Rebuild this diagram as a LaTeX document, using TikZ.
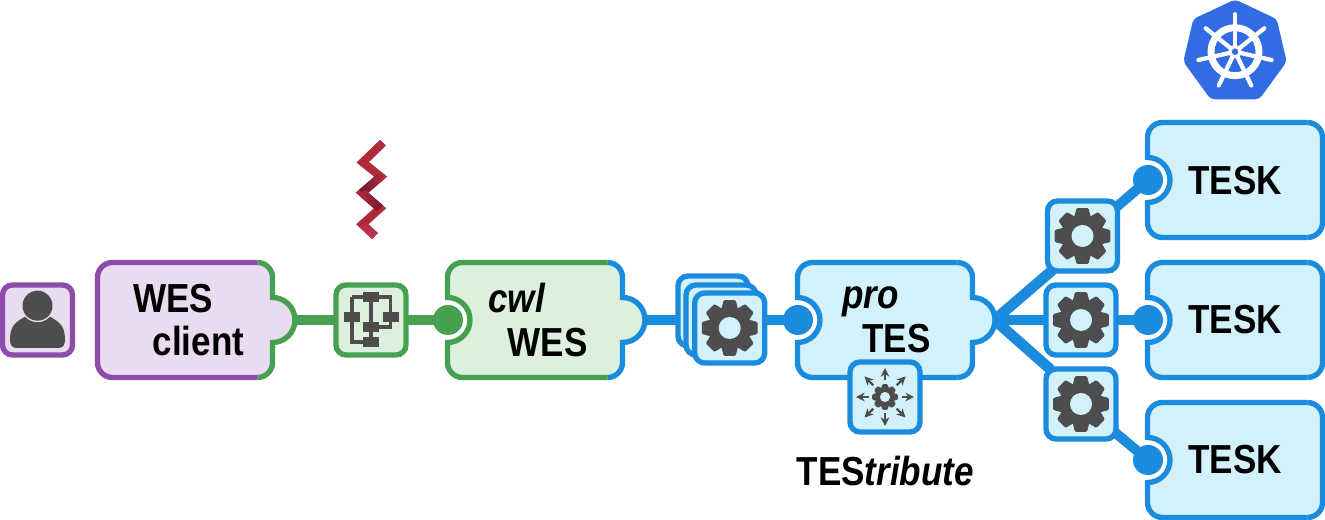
\documentclass[tikz,border=0pt]{standalone}
\usepackage{fontspec}
\setmainfont[FakeStretch=0.865]{Liberation Sans}
\usetikzlibrary{calc,arrows.meta,backgrounds}
\definecolor{cblue}{HTML}{1B8BDE}
\definecolor{lblue}{HTML}{D2F1FB}
\definecolor{cgreen}{HTML}{46A04F}
\definecolor{lgreen}{HTML}{DDF0DD}
\definecolor{cpurple}{HTML}{8E4BA8}
\definecolor{lpurple}{HTML}{E9DBF0}
\definecolor{cicon}{HTML}{4D4D4D}
\definecolor{kube}{HTML}{326CE5}
\definecolor{zred}{HTML}{B02B3A}
\definecolor{zdark}{HTML}{6E1830}
\definecolor{zpink}{HTML}{C63563}
\tikzset{
  sq/.style n args={2}{draw=#1,fill=#2,line width=4pt,rounded corners=7.5pt,
    minimum size=52.5pt,inner sep=0pt,outer sep=0pt},
  ball/.style={circle,fill=#1,minimum size=22.5pt,inner sep=0pt,outer sep=0pt},
  conn/.style={draw=#1,line width=7.5pt},
  fanline/.style={draw=cblue,line width=8pt,line cap=round},
  edgeline/.style={draw=#1,line width=4pt},
  label/.style={anchor=base,inner sep=0pt,font=\bfseries\fontsize{30.4}{30}\selectfont,text=black},
  flow/.style={draw=cicon,line width=2.5pt},
  flowbox/.style={fill=cicon},
  spoke/.style={draw=white,line width=3.2pt,line cap=round},
}
\def\withsocket{-- (0,80) arc (90:-90:22.5)}
\def\withtab{-- (175,35) arc (-90:90:22.5)}
\def\noedge{}
% name, left x, bottom y (up), fill, main colour, right colour, left piece, right piece
\newcommand\bigbox[8]{%
  \begin{scope}[shift={(#2,#3)}]
    \fill[#4] (15,0) -- (160,0) arc (-90:0:15) #8 -- (175,100) arc (0:90:15)
       -- (15,115) arc (90:180:15) #7 -- (0,15) arc (180:270:15) -- cycle;
    \draw[edgeline=#5] (160,115) -- (15,115) arc (90:180:15) #7 -- (0,15) arc (180:270:15) -- (160,0);
    \draw[edgeline=#6] (160,0) arc (-90:0:15) #8 -- (175,100) arc (0:90:15);
    \coordinate (#1-tab) at (197,57.5);
    \coordinate (#1-ball) at (0.5,57.5);
  \end{scope}}
\newcommand\gearicon[3]{%
  \begin{scope}[shift={(#1)},scale=#2]
    \fill[cicon] (0,0) circle (20.5);
    \foreach \a in {0,45,...,315}
      \fill[cicon,rotate=\a,rounded corners=0.8pt] (17,-8.8) -- (27.8,-6) -- (27.8,6) -- (17,8.8) -- cycle;
    \fill[#3] (0,0) circle (11);
  \end{scope}}
\newcommand\zseg[3]{%
  \shade[#3] ($(#1)!3.1pt!90:(#2)$) -- ($(#1)!3.1pt!-90:(#2)$) -- ($(#2)!3.1pt!90:(#1)$) -- ($(#2)!3.1pt!-90:(#1)$) -- cycle;}
\pgfdeclarelayer{linkbg}
\pgfsetlayers{linkbg,main}
\begin{document}
\begin{tikzpicture}[x=0.75pt,y=0.75pt]
\useasboundingbox (0,0) rectangle (1325,520);

% big boxes
\bigbox{wc}{97.5}{142.5}{lpurple}{cpurple}{cgreen}{\noedge}{\withtab}
\bigbox{cw}{447.5}{142.5}{lgreen}{cgreen}{cblue}{\withsocket}{\withtab}
\bigbox{pt}{797.5}{142.5}{lblue}{cblue}{cblue}{\withsocket}{\withtab}
\bigbox{t1}{1147.5}{282.5}{lblue}{cblue}{cblue}{\withsocket}{\noedge}
\bigbox{t2}{1147.5}{142.5}{lblue}{cblue}{cblue}{\withsocket}{\noedge}
\bigbox{t3}{1147.5}{2.5}{lblue}{cblue}{cblue}{\withsocket}{\noedge}

% balls
\node[ball=cgreen] (b-cw) at (cw-ball) {};
\node[ball=cblue] (b-pt) at (pt-ball) {};
\node[ball=cblue] (b-t1) at (t1-ball) {};
\node[ball=cblue] (b-t2) at (t2-ball) {};
\node[ball=cblue] (b-t3) at (t3-ball) {};

% square nodes
\node[sq={cpurple}{lpurple}] (user) at (37.5,200) {};
\node[sq={cgreen}{lgreen}] (wf) at (371,200) {};
\node[sq={cblue}{lblue}] (back) at (713,209) {};
\node[sq={cblue}{lblue}] (mid) at (721,200) {};
\node[sq={cblue}{lblue}] (front) at (729.7,192) {};
\node[sq={cblue}{lblue}] (dist) at (885,123) {};
\node[sq={cblue}{lblue}] (g1) at (1082.5,284) {};
\node[sq={cblue}{lblue}] (g2) at (1081,200) {};
\node[sq={cblue}{lblue}] (g3) at (1081,116) {};

% connectors
\begin{pgfonlayer}{linkbg}
  \draw[conn=cgreen] (wc-tab) -- (wf.center) -- (b-cw.center);
  \draw[conn=cblue] (cw-tab) -- (mid.center) -- (b-pt.center);
  \draw[conn=cblue] (pt-tab) -- (g2.center) -- (b-t2.center);
  \draw[fanline] (pt-tab) -- ($(g1.south west)+(4,0)$);
  \draw[fanline] (pt-tab) -- ($(g3.north west)+(4,0)$);
  \draw[conn=cblue] (g1.center) -- (b-t1.center);
  \draw[conn=cblue] (g3.center) -- (b-t3.center);
\end{pgfonlayer}

% labels
\node[label] (l-wes) at (173.2,207.5) {WES};
\node[label] (l-client) at (198.5,164) {client};
\node[label] (l-cwl) at (516.5,207) {\itshape cwl};
\node[label] (l-wes2) at (547.5,163.5) {WES};
\node[label] (l-pro) at (870.8,211) {\itshape pro};
\node[label] (l-tes) at (896.5,167.3) {TES};
\node[label] (l-t1) at (1235,325) {TESK};
\node[label] (l-t2) at (1235,186) {TESK};
\node[label] (l-t3) at (1235,46) {TESK};
\node[label] (l-testribute) at (885.3,34) {TES\textit{tribute}};

% user icon
\begin{scope}[shift={(user.center)}]
  \fill[cicon] (-21,-28) -- (21,-28) .. controls (26,-28) and (27.5,-24) .. (27.5,-20)
    .. controls (27.5,-8) and (24,-3) .. (13,3) -- (-13,3) .. controls (-24,-3) and (-27.5,-8) .. (-27.5,-20)
    .. controls (-27.5,-24) and (-26,-28) .. (-21,-28) -- cycle;
  \fill[lpurple] (0,14.3) circle (16.5);
  \fill[cicon] (0,14.3) circle (15);
\end{scope}

% workflow icon
\begin{scope}[shift={(wf.center)}]
  \draw[flow] (-19,23) -- (19.5,23) -- (19.5,-7) -- (0,-7);
  \draw[flow] (-19,23) -- (-19,-22) -- (0,-22);
  \draw[flow] (0,23) -- (0,-22);
  \fill[flowbox] (-8,18) rectangle (8,28);
  \fill[flowbox] (-27,-2.5) rectangle (-11,7.5);
  \fill[flowbox] (12,-2.5) rectangle (28,7.5);
  \fill[flowbox] (-8,-12) rectangle (8,-2);
  \fill[flowbox] (-8,-27.5) rectangle (8,-17.5);
\end{scope}

% gears
\gearicon{front.center}{1}{lblue}
\gearicon{g1.center}{1}{lblue}
\gearicon{g2.center}{1}{lblue}
\gearicon{g3.center}{1}{lblue}
\gearicon{dist.center}{0.46}{lblue}
\foreach \a in {0,45,...,315}
  \draw[cicon,line width=1.8pt,-{Stealth[length=6.5pt,width=6.5pt]},shift={(dist.center)},rotate=\a] (16.5,0) -- (29,0);

% zigzag logo
\coordinate (z0) at (383,377.3);
\coordinate (z1) at (362.7,357.7);
\coordinate (z2) at (380.7,343.3);
\coordinate (z3) at (362,327.3);
\coordinate (z4) at (380,311.7);
\coordinate (z5) at (362.3,295.7);
\coordinate (z6) at (375,284);
\draw[zred,line width=6.2pt,miter limit=10] (z0) -- (z1) -- (z2) -- (z3) -- (z4) -- (z5) -- (z6);
\zseg{z2}{z3}{shading=axis,left color=zdark,right color=zred,shading angle=90}
\zseg{z3}{z4}{shading=axis,left color=zred,right color=zdark}
\zseg{z5}{z6}{shading=axis,bottom color=zpink,top color=zred}

% kubernetes logo
\fill[kube,rounded corners=3pt] (1235,520.5) -- (1276.7,501) -- (1286.7,458.3) -- (1259.3,420.7)
   -- (1210.7,420.7) -- (1183.3,458.3) -- (1193.3,501) -- cycle;
\begin{scope}[shift={(1235,468.3)}]
  \draw[white,line width=5.2pt] (0,0) circle (24);
  \foreach \a in {90,141.43,192.86,244.29,295.71,347.14,398.57}
    \draw[spoke,rotate=\a] (0,0) -- (37.5,0);
  \fill[white] (0,0) circle (6.5);
  \fill[kube] (0,0) circle (3.3);
\end{scope}
\end{tikzpicture}
\end{document}
